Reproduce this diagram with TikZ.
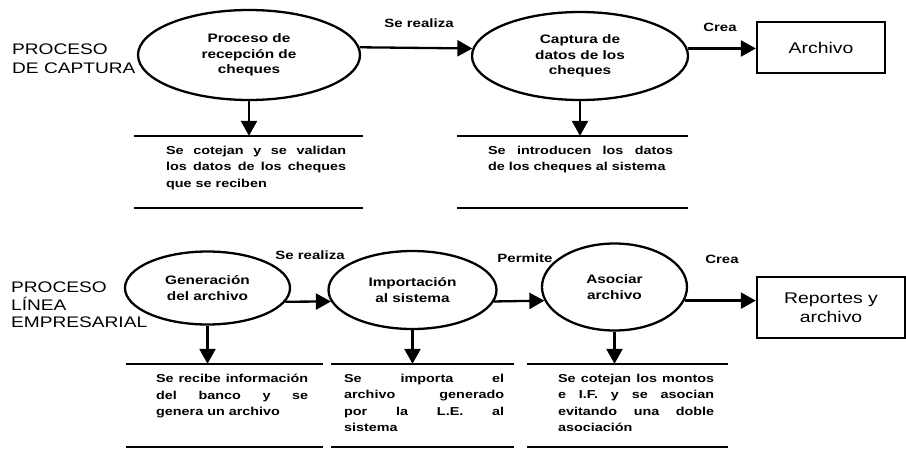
\documentclass[tikz,border=0pt]{standalone}
\usepackage{fontspec}
\setmainfont{Liberation Sans}[FakeStretch=1.25]
\newfontfamily\negrita{Liberation Sans Bold}[FakeStretch=1.25]
\usetikzlibrary{arrows.meta,shapes.geometric}

\begin{document}
\begin{tikzpicture}[x=1pt,y=-1pt,line width=2.3pt,
   flecha/.style={-{Triangle[length=15pt,width=16pt]}},
   proc/.style={ellipse,draw,inner sep=0pt,align=center,font=\fontsize{12.3}{15.5}\selectfont\negrita},
   caja/.style={rectangle,draw,align=center,font=\fontsize{15.5}{19}\selectfont},
   marco/.style={rectangle,inner sep=0pt},
   nota/.style={anchor=north west,inner sep=0pt,align=justify,font=\fontsize{11.5}{16.5}\selectfont\negrita},
   etiq/.style={font=\fontsize{12}{14}\selectfont\negrita},
   titulo/.style={anchor=west,align=left,inner sep=0pt}]
   \useasboundingbox[fill=white] (0,0) rectangle (906,448);
   % proceso de captura
   \node[titulo,font=\fontsize{15.3}{19}\selectfont] (pc) at (11,59) {PROCESO\\DE CAPTURA};
   \node[proc,minimum width=222,minimum height=90] (rec) at (249,55) {Proceso de\\recepción de\\cheques};
   \node[proc,minimum width=216,minimum height=88] (cap) at (580,56) {Captura de\\datos de los\\cheques};
   \node[caja,minimum width=128,minimum height=51] (arch) at (821,47.5) {Archivo};
   \node[etiq] (l1) at (419,23) {Se realiza};
   \node[etiq] (l2) at (720,27) {Crea};
   \draw[flecha] (rec.4) -- (cap.176);
   \draw[flecha] (cap.4) -- (cap.4 -| arch.west);
   \node[marco,minimum width=227,minimum height=70] (m1) at (248.5,172) {};
   \node[marco,minimum width=229,minimum height=70] (m2) at (572.5,172) {};
   \draw[flecha] (rec.south) -- (rec.south |- m1.north);
   \draw[flecha] (cap.south) -- (cap.south |- m2.north);
   \node[nota,text width=180] (t1) at (165,145) {Se cotejan y se validan\linebreak los datos de los cheques\linebreak que se reciben};
   \node[nota,text width=185] (t2) at (487,145) {Se introducen los datos\linebreak de los cheques al sistema};
   % proceso linea empresarial
   \node[titulo,font=\fontsize{15.3}{17.5}\selectfont] (pl) at (10,305) {PROCESO\\LÍNEA\\EMPRESARIAL};
   \node[proc,minimum width=165,minimum height=73] (gen) at (207.5,288) {Generación\\del archivo};
   \node[proc,minimum width=168,minimum height=78] (imp) at (412.5,290) {Importación\\al sistema};
   \node[proc,minimum width=145,minimum height=87] (aso) at (614.5,287) {Asociar\\archivo};
   \node[caja,minimum width=148,minimum height=61] (rep) at (831,307.5) {Reportes y\\archivo};
   \node[etiq] (l3) at (310,255) {Se realiza};
   \node[etiq] (l4) at (525,258) {Permite};
   \node[etiq] (l5) at (722,259) {Crea};
   \draw[flecha] (gen.-10) -- (imp.188);
   \draw[flecha] (imp.-8) -- (aso.191);
   \draw[flecha] (aso.-11) -- (aso.-11 -| rep.west);
   \node[marco,minimum width=195,minimum height=81] (mA) at (224.5,405.5) {};
   \node[marco,minimum width=181,minimum height=81] (mB) at (422.5,405.5) {};
   \node[marco,minimum width=199,minimum height=81] (mC) at (627.5,405.5) {};
   \draw[flecha] (gen.south) -- (gen.south |- mA.north);
   \draw[flecha] (imp.south) -- (imp.south |- mB.north);
   \draw[flecha] (aso.south) -- (aso.south |- mC.north);
   \node[nota,text width=152] (tA) at (155,373) {Se recibe información\linebreak del banco y se\linebreak genera un archivo};
   \node[nota,text width=160] (tB) at (343,373) {Se importa el\linebreak archivo generado\linebreak por la L.E. al\linebreak sistema};
   \node[nota,text width=156] (tC) at (557,373) {Se cotejan los montos\linebreak e I.F. y se asocian\linebreak evitando una doble\linebreak asociación};
   % lineas de los marcos
   \foreach \m in {m1,m2,mA,mB,mC}
     \draw (\m.north west) -- (\m.north east) (\m.south west) -- (\m.south east);
\end{tikzpicture}
\end{document}
